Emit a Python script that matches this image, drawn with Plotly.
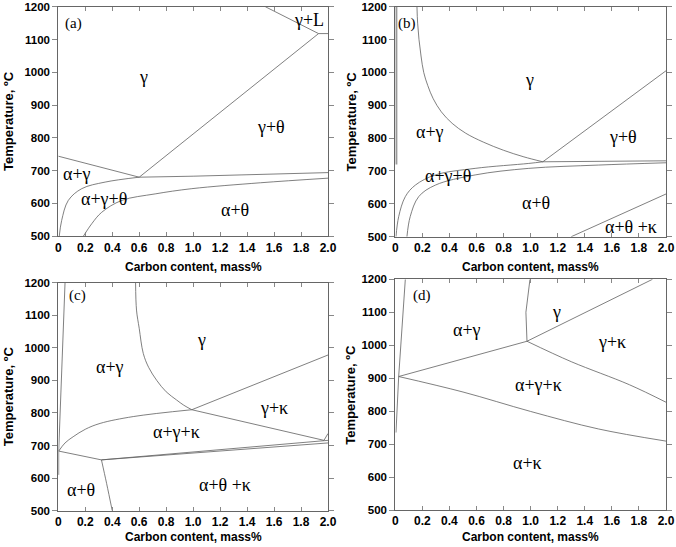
import plotly.graph_objects as go
from plotly.subplots import make_subplots

# tick labels
x_ticks = [0, 0.2, 0.4, 0.6, 0.8, 1.0, 1.2, 1.4, 1.6, 1.8, 2.0]
x_tick_text = ["0", "0.2", "0.4", "0.6", "0.8", "1.0", "1.2", "1.4", "1.6", "1.8", "2.0"]
y_ticks = [500, 600, 700, 800, 900, 1000, 1100, 1200]

# panel (a) phase boundaries: carbon mass% / temperature degC
a_ag_x = [0, 0.6]
a_ag_t = [744, 680]
a_gc_x = [0.6, 1.93]
a_gc_t = [680, 1118]
a_top_x = [1.93, 2.0]
a_top_t = [1118, 1118]
a_liq_x = [1.535, 1.93]
a_liq_t = [1200, 1118]
a_eut_x = [0.6, 1.0, 2.0]
a_eut_t = [680, 683, 694]
a_agt_x = [0.007, 0.025, 0.074, 0.174, 0.347, 0.6]
a_agt_t = [500, 548, 609, 645, 665, 680]
a_at_x = [0.186, 0.248, 0.322, 0.47, 0.718, 0.99, 1.5, 2.0]
a_at_t = [500, 538, 573, 609, 629, 645, 663, 677]

# panel (b)
b_fe_x = [0.008, 0.008]
b_fe_t = [720, 1200]
b_ag_x = [0.16, 0.165, 0.175, 0.19, 0.21, 0.24, 0.28, 0.34, 0.42, 0.52, 0.65, 0.80, 0.95, 1.09]
b_ag_t = [1200, 1150, 1100, 1050, 1000, 960, 920, 880, 845, 815, 788, 763, 743, 728]
b_gc_x = [1.09, 2.0]
b_gc_t = [728, 1005]
b_eut_x = [1.09, 2.0]
b_eut_t = [728, 731]
b_agt_x = [0.005, 0.025, 0.074, 0.148, 0.296, 0.59, 0.986, 1.09]
b_agt_t = [500, 561, 622, 657, 688, 708, 723, 728]
b_at_x = [0.086, 0.11, 0.173, 0.296, 0.59, 0.986, 1.5, 2.0]
b_at_t = [500, 561, 622, 657, 688, 708, 718, 725]
b_k_x = [1.3, 2.0]
b_k_t = [500, 630]

# panel (c)
c_fe_x = [0.003, 0.003]
c_fe_t = [610, 683]
c_fe2_x = [0.003, 0.05]
c_fe2_t = [683, 1200]
c_ag_x = [0.573, 0.58, 0.60, 0.63, 0.67, 0.73, 0.80, 0.877, 0.93, 0.99]
c_ag_t = [1200, 1116, 1060, 983, 940, 900, 865, 840, 824, 810]
c_gk_x = [0.99, 2.0]
c_gk_t = [810, 978]
c_gk2_x = [0.99, 1.97]
c_gk2_t = [810, 716]
c_end_x = [1.97, 2.0]
c_end_t = [716, 737]
c_agk_x = [0.003, 0.05, 0.11, 0.2, 0.31, 0.556, 0.99]
c_agk_t = [683, 708, 727, 750, 768, 789, 810]
c_fa_x = [0.003, 0.32]
c_fa_t = [683, 656]
c_up_x = [0.32, 2.0]
c_up_t = [656, 716]
c_lo_x = [0.32, 2.0]
c_lo_t = [656, 708]
c_at_x = [0.32, 0.358, 0.40]
c_at_t = [656, 584, 500]

# panel (d)
d_fe_x = [0.005, 0.025, 0.074]
d_fe_t = [735, 905, 1200]
d_ag_x = [0.025, 0.973]
d_ag_t = [905, 1012]
d_agk_x = [0.025, 0.5, 1.0, 1.5, 2.0]
d_agk_t = [905, 858, 799, 746, 709]
d_gv_x = [0.973, 0.965, 0.995]
d_gv_t = [1012, 1100, 1200]
d_gk_x = [0.973, 1.90]
d_gk_t = [1012, 1200]
d_gk2_x = [0.973, 1.3, 1.73, 2.0]
d_gk2_t = [1012, 950, 880, 827]

# phase labels: text, x, T
a_labels = [("(a)", 0.11, 1150), ("γ+L", 1.86, 1160), ("γ", 0.63, 985),
            ("γ+θ", 1.58, 833), ("α+γ", 0.14, 690), ("α+γ+θ", 0.34, 614),
            ("α+θ", 1.31, 580)]
b_labels = [("(b)", 0.09, 1150), ("γ", 0.99, 977), ("α+γ", 0.26, 820),
            ("γ+θ", 1.68, 804), ("α+γ+θ", 0.39, 686), ("α+θ", 1.04, 602),
            ("α+θ +κ", 1.74, 531)]
c_labels = [("(c)", 0.14, 1162), ("γ", 1.06, 1024), ("α+γ", 0.38, 942),
            ("γ+κ", 1.6, 814), ("α+γ+κ", 0.877, 742), ("α+θ", 0.17, 563),
            ("α+θ +κ", 1.235, 579)]
d_labels = [("(d)", 0.2, 1152), ("γ", 1.19, 1102), ("α+γ", 0.53, 1046),
            ("γ+κ", 1.6, 1011), ("α+γ+κ", 1.06, 879), ("α+κ", 0.98, 642)]

# (row, col, straight segments, smooth curves, labels)
panels = [
    (1, 1, [(a_ag_x, a_ag_t), (a_gc_x, a_gc_t), (a_top_x, a_top_t), (a_liq_x, a_liq_t),
            (a_eut_x, a_eut_t)],
     [(a_agt_x, a_agt_t), (a_at_x, a_at_t)], a_labels),
    (1, 2, [(b_gc_x, b_gc_t), (b_eut_x, b_eut_t), (b_k_x, b_k_t)],
     [(b_ag_x, b_ag_t), (b_agt_x, b_agt_t), (b_at_x, b_at_t)], b_labels),
    (2, 1, [(c_fe_x, c_fe_t), (c_fe2_x, c_fe2_t), (c_gk_x, c_gk_t), (c_gk2_x, c_gk2_t),
            (c_end_x, c_end_t), (c_fa_x, c_fa_t), (c_up_x, c_up_t), (c_lo_x, c_lo_t)],
     [(c_ag_x, c_ag_t), (c_agk_x, c_agk_t), (c_at_x, c_at_t)], c_labels),
    (2, 2, [(d_fe_x, d_fe_t), (d_ag_x, d_ag_t), (d_gv_x, d_gv_t), (d_gk_x, d_gk_t)],
     [(d_agk_x, d_agk_t), (d_gk2_x, d_gk2_t)], d_labels),
]

fig = make_subplots(rows=2, cols=2)

line_style = dict(color="#606060", width=0.8)
for row, col, straight, curves, labels in panels:
    for shape, group in (("linear", straight), ("spline", curves)):
        for xs, ts in group:
            fig.add_trace(go.Scatter(x=xs, y=ts, mode="lines", line=line_style,
                                     line_shape=shape, hoverinfo="skip", showlegend=False),
                          row=row, col=col)
    for text, x, t in labels:
        size = 15 if text.startswith("(") else 18
        fig.add_annotation(text=text, x=x, y=t, showarrow=False, row=row, col=col,
                           font=dict(family="Liberation Serif, Times New Roman, serif",
                                     size=size, color="black"))

# thick grey ferrite boundary hugging the axis in (b)
fig.add_trace(go.Scatter(x=b_fe_x, y=b_fe_t, mode="lines",
                         line=dict(color="#999999", width=2),
                         hoverinfo="skip", showlegend=False), row=1, col=2)

x_tick_font = dict(family="Liberation Sans, Arial, sans-serif", size=12,
                   color="black", weight="bold")
# 11.5 keeps the top "1200" label inside the page so plotly does not drop it
y_tick_font = dict(family="Liberation Sans, Arial, sans-serif", size=11.5,
                   color="black", weight="bold")
fig.update_xaxes(range=[0, 2.0], tickvals=x_ticks, ticktext=x_tick_text,
                 ticks="inside", ticklen=4, tickcolor="#888888",
                 showline=True, linecolor="#666666", linewidth=1, mirror="ticks",
                 showgrid=False, zeroline=False, tickfont=x_tick_font, automargin=False)
fig.update_yaxes(range=[500, 1200], tickvals=y_ticks,
                 ticks="outside", ticklen=5, tickcolor="#888888",
                 showline=True, linecolor="#666666", linewidth=1, mirror="ticks",
                 showgrid=False, zeroline=False, tickfont=y_tick_font, automargin=False)

# place the four panels like the original figure
W, H = 676, 547
left_dom = [58.3 / W, 328 / W]
right_dom = [395.3 / W, 666 / W]
fig.update_layout(
    xaxis=dict(domain=left_dom), xaxis2=dict(domain=right_dom),
    xaxis3=dict(domain=left_dom), xaxis4=dict(domain=right_dom),
    yaxis=dict(domain=[1 - 236.2 / H, 1 - 6.7 / H]),
    yaxis2=dict(domain=[1 - 236.7 / H, 1 - 6.7 / H]),
    yaxis3=dict(domain=[1 - 510.7 / H, 1 - 282.7 / H]),
    yaxis4=dict(domain=[1 - 510 / H, 1 - 279.3 / H]),
)

x_title_font = dict(family="Liberation Sans, Arial, sans-serif", size=12,
                    color="black", weight="bold")
y_title_font = dict(family="Liberation Sans, Arial, sans-serif", size=13,
                    color="black", weight="bold")
for xc, yp in [(sum(left_dom) / 2, 1 - 267 / H), (sum(right_dom) / 2, 1 - 267 / H),
               (sum(left_dom) / 2, 1 - 536.7 / H), (sum(right_dom) / 2, 1 - 536.7 / H)]:
    fig.add_annotation(text="Carbon content, mass%", xref="paper", yref="paper",
                       x=xc, y=yp, xanchor="center", yanchor="middle",
                       showarrow=False, font=x_title_font)
for xp, yc in [(8.5 / W, 1 - 121.5 / H), (351 / W, 1 - 121.5 / H),
               (8.5 / W, 1 - 396.7 / H), (351 / W, 1 - 394.7 / H)]:
    fig.add_annotation(text="Temperature, ºC", xref="paper", yref="paper",
                       x=xp, y=yc, xanchor="center", yanchor="middle", textangle=-90,
                       showarrow=False, font=y_title_font)

fig.update_layout(width=W, height=H, margin=dict(l=0, r=0, t=0, b=0),
                  plot_bgcolor="white", paper_bgcolor="white")

# drop the browser's default body margin so the figure sits at the page corner
fig.write_html("out.html", config={"displayModeBar": False},
               post_script="document.body.style.margin = '0';")
